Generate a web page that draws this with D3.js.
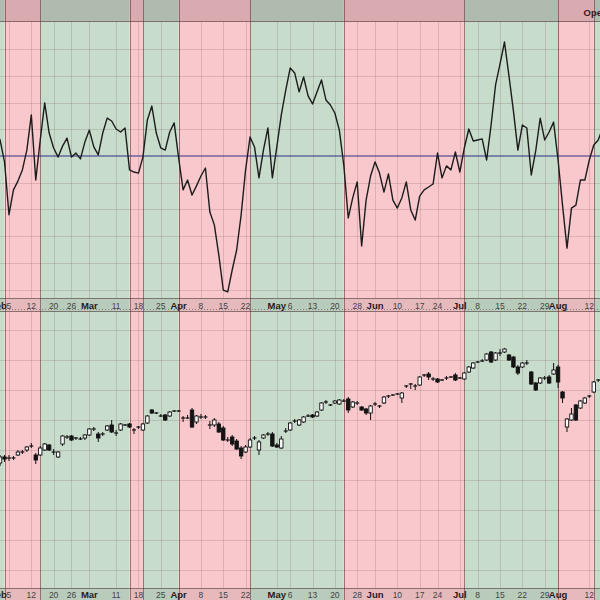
<!DOCTYPE html>
<html><head><meta charset="utf-8">
<script src="https://cdn.jsdelivr.net/npm/d3@7/dist/d3.min.js"></script>
<style>html,body{margin:0;padding:0;background:#fff;}svg{display:block;}</style>
</head><body>
<svg id="chart" width="600" height="600"></svg>
<script>
// ---- data ----
const tickDays   = [0.6,3,8,13,17,21,27,32,37,41,46,51,56,63,66,71,76,81,85,90,95,99,104,108,113,118,123,126,133];
const tickLabels = ["Feb","5","12","20","26","Mar","11","18","25","Apr","8","15","22","May","6","13","20","28","Jun","10","17","24","Jul","8","15","22","29","Aug","12"];

const zoneEdges = [2,10,30,33,41,57,78,105,126,134];
const zoneState = ["up","down","up","down","up","down","up","down","up","down","up"];

const oscillator = [9.7,6,-2.2,-22,-12.7,-9.4,-5.2,2.2,15.4,-9,
 6,19.9,8.6,3,-0.4,3.7,6.7,-0.4,1.1,-1.1,
 5.2,9.7,3.4,0.4,8.6,14.2,13.1,10.1,9,10.5,
 -5.2,-6,-6.4,-0.4,13.5,18.7,8.6,3,2.2,9,
 12.4,-0.7,-12.7,-9,-14.6,-11.2,-7.5,-4.5,-21,-25.8,
 -37,-50.2,-50.9,-42.7,-35.2,-22.1,-5.2,7.1,3.4,-8.2,
 2.2,10.5,-8.2,3.4,15.4,24.7,33,31.1,24,29.6,
 22.5,19.5,24,28.5,21,19.1,16.1,9.7,-3.4,-23.2,
 -15.7,-9.7,-33.7,-16.5,-7.5,-2.2,-6.4,-13.5,-6.7,-16.5,
 -19.5,-15.7,-9.7,-20.2,-24,-15,-12.7,-11.6,-10.5,1.1,
 -8.2,-3.7,-5.2,1.5,-6,3,10.1,5.6,6,6.4,
 -1.5,11.6,26.6,34.5,42.7,30,16.9,2.2,11.6,10.5,
 -7.1,2,14.2,6,9,12.7,-1.5,-18.4,-34.5,-19.5,
 -18.4,-9,-9,-1.5,4.1,6,10.5];

const opens = [142,137,143,142,142,145,148,150,154,145,
 145,150,155,148,143,156,163,164,162,161,
 162,165,171,166,166,170,175,167,170,175,
 176,170,173,170,177,190,187,184,185,184,
 189,189,182,182,190,178,183,183,175,175,
 176,172,160,163,159,152,148,153,162,150,
 162,166,166,155,152,169,170,179,175,178,
 184,185,184,190,198,195,197,196,199,201,
 193,197,193,191,187,196,194,197,204,205,
 206,202,214,216,214,215,225,226,221,221,
 220,222,223,225,222,221,228,232,238,239,
 240,248,240,247,248,245,243,233,233,237,
 228,217,217,222,223,226,233,208,173,180,
 195,192,197,204,208,220];
const highs = [148,145,145,145,144,150,150,154,157,147,
 154,157,156,151,149,165,165,165,163,163,
 166,172,173,168,168,175,180,170,177,176,
 177,172,174,177,185,191,188,186,186,189,
 190,190,184,185,192,185,186,185,179,182,
 178,174,163,165,161,154,155,162,164,160,
 166,168,168,157,164,172,178,181,181,184,
 186,186,189,198,200,196,200,201,201,203,
 199,199,194,192,195,198,195,204,205,206,
 207,208,215,217,216,224,226,228,223,222,
 221,224,224,227,223,228,234,238,239,241,
 247,249,248,251,252,246,244,235,238,240,
 229,218,223,224,225,237,235,209,182,192,
 196,200,203,205,219,221];
const lows = [128,134,138,139,140,144,146,148,152,136,
 144,149,149,145,142,154,161,159,160,160,
 160,164,169,158,164,169,167,164,169,174,
 172,166,171,169,176,186,186,183,179,183,
 188,188,178,181,172,176,181,181,171,173,
 167,159,158,154,150,141,147,152,160,145,
 161,164,153,152,151,167,169,177,174,177,
 183,182,183,189,196,194,196,195,198,187,
 192,195,189,185,180,194,192,196,202,204,
 205,197,212,211,210,214,223,220,219,217,
 219,220,222,219,221,220,227,231,237,238,
 239,237,239,244,247,239,232,225,232,235,
 215,209,216,220,216,225,212,197,168,179,
 179,191,196,202,207,218];
const closes = [132,143,141,142,142,148,148,153,154,140,
 152,156,150,148,148,164,163,160,162,161,
 165,171,171,162,166,174,168,167,176,175,
 173,170,173,176,184,187,187,184,180,188,
 189,189,182,182,173,184,183,183,175,180,
 168,160,160,156,151,144,153,160,162,158,
 165,166,154,153,161,169,177,179,180,183,
 184,183,188,197,198,195,199,200,199,190,
 198,197,190,187,194,196,194,203,204,205,
 206,207,214,216,214,223,225,223,221,218,
 220,222,223,220,222,227,233,237,238,239,
 246,238,247,247,251,240,233,227,237,237,
 216,210,222,222,217,230,218,202,181,186,
 180,199,202,204,218,220];

const oscGrid = [-50,-40,-30,-20,-10,10,20,30,40];
const priceGrid = [30,60,90,120,150,180,210,240,270];
const headerText = "Open";

// ---- layout ----
const svg = d3.select("#chart");
const W = 600, H = 600;
const headerBottom = 21.5, oscBottom = 298.5, midStripBottom = 311.5, priceBottom = 588.5;

const x = d3.scaleLinear().domain([0, 134]).range([-4.4, -4.4 + 4.464*134]);
const yOsc = d3.scaleLinear().domain([-50, 50]).range([289.5, 22.5]);
const yP = d3.scaleLinear().domain([0, 600]).range([600, 0]);

const colors = {up: "#c8dccb", down: "#f8c8cc"};
const edges = [-10, ...zoneEdges, 200];

// zones
svg.append("g").selectAll("rect").data(zoneState).join("rect")
  .attr("x", (s,i) => x(edges[i]))
  .attr("width", (s,i) => x(edges[i+1]) - x(edges[i]))
  .attr("y", 0).attr("height", H)
  .attr("fill", s => colors[s]);

// header darkening
svg.append("rect").attr("x",0).attr("y",0).attr("width",W).attr("height",headerBottom)
  .attr("fill","rgba(40,0,20,0.15)");

// axis strips
svg.append("rect").attr("x",0).attr("y",oscBottom).attr("width",W).attr("height",midStripBottom-oscBottom)
  .attr("fill","rgba(0,0,0,0.07)");
svg.append("rect").attr("x",0).attr("y",priceBottom).attr("width",W).attr("height",H-priceBottom)
  .attr("fill","rgba(0,0,0,0.07)");

const gridCol = "rgba(90,50,50,0.16)";
// vertical grid
const vg = svg.append("g");
tickDays.forEach(d => {
  [[headerBottom, oscBottom],[midStripBottom, priceBottom]].forEach(([a,b]) => {
    vg.append("line").attr("x1", Math.round(x(d))+0.5).attr("x2", Math.round(x(d))+0.5)
      .attr("y1", a).attr("y2", b).attr("stroke", gridCol).attr("stroke-width",1);
  });
});
// horizontal grid (osc)
svg.append("g").selectAll("line").data(oscGrid).join("line")
  .attr("x1",0).attr("x2",W)
  .attr("y1", v => Math.round(yOsc(v))+0.5).attr("y2", v => Math.round(yOsc(v))+0.5)
  .attr("stroke", gridCol);
// horizontal grid (price)
svg.append("g").selectAll("line").data(priceGrid).join("line")
  .attr("x1",0).attr("x2",W)
  .attr("y1", v => Math.round(yP(v))+0.5).attr("y2", v => Math.round(yP(v))+0.5)
  .attr("stroke", gridCol);

// zone boundaries
svg.append("g").selectAll("line").data(zoneEdges).join("line")
  .attr("x1", d => Math.round(x(d))+0.5).attr("x2", d => Math.round(x(d))+0.5)
  .attr("y1",0).attr("y2",H)
  .attr("stroke","rgba(110,50,55,0.6)").attr("stroke-width",1);

// panel separators
[headerBottom, oscBottom, midStripBottom, priceBottom].forEach(yy => {
  svg.append("line").attr("x1",0).attr("x2",W).attr("y1",yy).attr("y2",yy)
    .attr("stroke","rgba(60,40,40,0.55)").attr("stroke-width",1);
});
// dotted line in mid strip
svg.append("line").attr("x1",0).attr("x2",W).attr("y1",309.5).attr("y2",309.5)
  .attr("stroke","rgba(60,60,60,0.5)").attr("stroke-dasharray","1,2");

// zero line
svg.append("line").attr("x1",0).attr("x2",W)
  .attr("y1", yOsc(0)).attr("y2", yOsc(0))
  .attr("stroke","#2e2e88").attr("stroke-width",1);

// oscillator
svg.append("path").datum(oscillator)
  .attr("d", d3.line().x((v,i) => x(i)).y(v => yOsc(v)))
  .attr("fill","none").attr("stroke","#1c1c1c").attr("stroke-width",1.4)
  .attr("stroke-linejoin","round");

// candles
const cg = svg.append("g");
const bw = 3.4;
opens.forEach((o,i) => {
  const c = closes[i], h = highs[i], l = lows[i];
  const cx = x(i);
  cg.append("line").attr("x1",cx).attr("x2",cx).attr("y1",yP(h)).attr("y2",yP(l))
    .attr("stroke","#111").attr("stroke-width",1);
  if (o === c) {
    cg.append("line").attr("x1",cx-bw/2-0.3).attr("x2",cx+bw/2+0.3).attr("y1",yP(o)).attr("y2",yP(o))
      .attr("stroke","#111").attr("stroke-width",1.2);
  } else {
    const top = yP(Math.max(o,c)), bot = yP(Math.min(o,c));
    cg.append("rect").attr("x",cx-bw/2).attr("width",bw)
      .attr("y",top).attr("height",Math.max(1,bot-top))
      .attr("fill", c > o ? "#ffffff" : "#141414")
      .attr("stroke","#111").attr("stroke-width",0.9);
  }
});

// axis labels
function drawLabels(baseY){
  const g = svg.append("g");
  tickDays.forEach((d,i) => {
    const lab = tickLabels[i];
    const isMonth = /^[A-Z]/.test(lab);
    g.append("text").attr("x", x(d)).attr("y", baseY)
      .attr("text-anchor","middle")
      .attr("font-family","'Liberation Sans', Arial, sans-serif")
      .attr("font-size", isMonth ? 9.5 : 8.5)
      .attr("font-weight", isMonth ? "bold" : "normal")
      .attr("fill", isMonth ? "#2a1a1a" : "#444")
      .text(lab);
  });
}
drawLabels(308.5);
drawLabels(597.5);

// header text
svg.append("text").attr("x",583.5).attr("y",16)
  .attr("font-family","'Liberation Sans', Arial, sans-serif")
  .attr("font-size",9.5).attr("font-weight","bold").attr("fill","#3a1a22")
  .text(headerText);
</script>
</body></html>
